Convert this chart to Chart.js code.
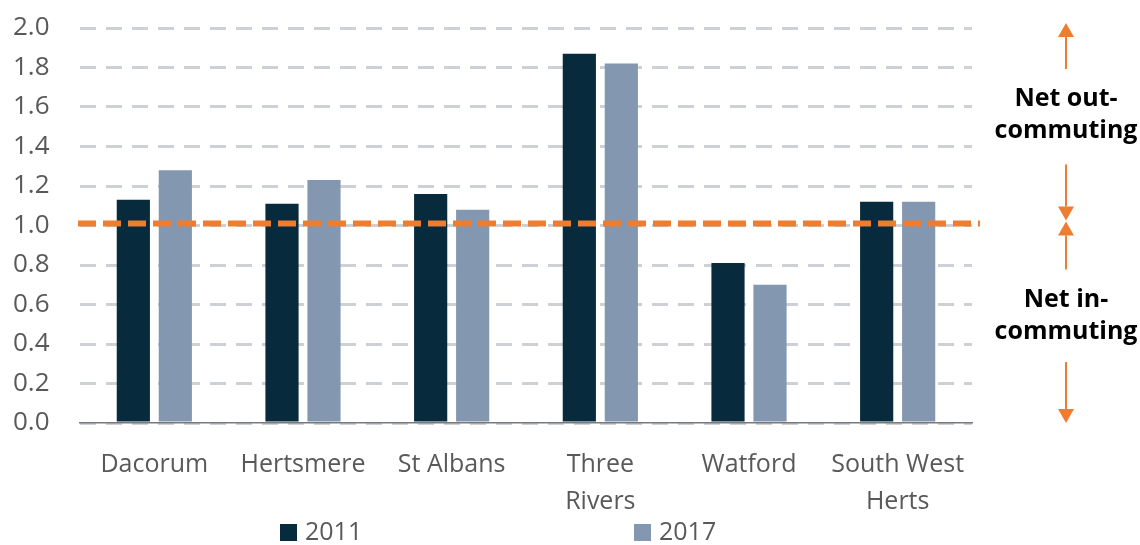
<!DOCTYPE html>
<html lang="en">
<head>
  <meta charset="UTF-8">
  <title>Commuting ratio</title>
  <script src="https://cdn.jsdelivr.net/npm/chart.js"></script>
  <style>
    html, body {
      margin: 0;
      padding: 0;
      background: #fff;
    }
    #wrap {
      width: 1140px;
      height: 545px;
      position: relative;
    }
  </style>
</head>
<body>
  <div id="wrap">
    <canvas id="ratioChart" width="1140" height="545"></canvas>
  </div>

  <script>
    const categories = ['Dacorum', 'Hertsmere', 'St Albans', ['Three', 'Rivers'], 'Watford', ['South West', 'Herts']];
    const values2011 = [1.13, 1.11, 1.16, 1.87, 0.81, 1.12];
    const values2017 = [1.28, 1.23, 1.08, 1.82, 0.70, 1.12];
    const seriesLabels = ['2011', '2017'];
    const yTicks = [0, 0.2, 0.4, 0.6, 0.8, 1.0, 1.2, 1.4, 1.6, 1.8, 2.0];
    const threshold = 1.01;
    const noteTop = ['Net out-', 'commuting'];
    const noteBottom = ['Net in-', 'commuting'];

    const ORANGE = '#ed7d31';
    const TEXT = '#595959';
    const FONT = '"Open Sans", sans-serif';

    // orange dashed 1.0 line
    const thresholdLine = {
      id: 'thresholdLine',
      afterDatasetsDraw(chart) {
        const { ctx, chartArea, scales } = chart;
        const y = scales.y.getPixelForValue(threshold);
        ctx.save();
        ctx.strokeStyle = ORANGE;
        ctx.lineWidth = 6;
        ctx.setLineDash([18, 7]);
        ctx.beginPath();
        ctx.moveTo(chartArea.left - 2, y);
        ctx.lineTo(chartArea.right + 8, y);
        ctx.stroke();
        ctx.restore();
      }
    };

    function arrow(ctx, x, y0, y1) {
      // line from y0 to the tip at y1
      const dir = y1 > y0 ? 1 : -1;
      const head = 14;
      ctx.beginPath();
      ctx.moveTo(x, y0);
      ctx.lineTo(x, y1 - dir * head);
      ctx.stroke();
      ctx.beginPath();
      ctx.moveTo(x, y1);
      ctx.lineTo(x - 8, y1 - dir * head);
      ctx.lineTo(x + 8, y1 - dir * head);
      ctx.closePath();
      ctx.fill();
    }

    // side notes with arrows + legend
    const sideNotes = {
      id: 'sideNotes',
      afterDraw(chart) {
        const { ctx, scales } = chart;
        const x = 1066;
        const yTop = scales.y.getPixelForValue(2.0) - 5;
        const yMid = scales.y.getPixelForValue(threshold);
        const yBot = scales.y.getPixelForValue(0);
        ctx.save();
        ctx.strokeStyle = ORANGE;
        ctx.fillStyle = ORANGE;
        ctx.lineWidth = 2;
        arrow(ctx, x, yTop + 46, yTop);
        arrow(ctx, x, yMid - 59, yMid - 3);
        arrow(ctx, x, yMid + 46, yMid - 2);
        arrow(ctx, x, yBot - 61, yBot);

        ctx.fillStyle = '#000';
        ctx.font = 'bold 25px ' + FONT;
        ctx.textAlign = 'center';
        ctx.textBaseline = 'alphabetic';
        ctx.fillText(noteTop[0], x, yTop + 83);
        ctx.fillText(noteTop[1], x, yTop + 115);
        ctx.fillText(noteBottom[0], x, yMid + 83);
        ctx.fillText(noteBottom[1], x, yMid + 115);

        // legend
        const legendX = [280, 634];
        const colors = chart.data.datasets.map(d => d.backgroundColor);
        ctx.font = '25px ' + FONT;
        ctx.textAlign = 'left';
        ctx.textBaseline = 'middle';
        seriesLabels.forEach((lab, i) => {
          ctx.fillStyle = colors[i];
          ctx.fillRect(legendX[i], 524, 17, 17);
          ctx.fillStyle = TEXT;
          ctx.fillText(lab, legendX[i] + 25, 533);
        });
        ctx.restore();
      }
    };

    new Chart(document.getElementById('ratioChart'), {
      type: 'bar',
      data: {
        labels: categories,
        datasets: [
          {
            label: seriesLabels[0],
            data: values2011,
            backgroundColor: '#072a3c',
            categoryPercentage: 0.565,
            barPercentage: 0.79
          },
          {
            label: seriesLabels[1],
            data: values2017,
            backgroundColor: '#8497b0',
            categoryPercentage: 0.565,
            barPercentage: 0.79
          }
        ]
      },
      options: {
        responsive: false,
        animation: false,
        layout: {
          padding: { left: 13, top: 28, right: 168, bottom: 0 }
        },
        plugins: {
          legend: { display: false },
          tooltip: { enabled: false }
        },
        scales: {
          x: {
            grid: { display: false },
            border: { display: true, color: '#767a7e', width: 1.5 },
            ticks: {
              color: TEXT,
              font: { family: FONT, size: 25, lineHeight: 1.45 },
              padding: 16,
              maxRotation: 0,
              autoSkip: false
            },
            afterFit(scale) { scale.height = 122; }
          },
          y: {
            min: 0,
            max: 2,
            afterBuildTicks(scale) {
              scale.ticks = yTicks.map(v => ({ value: v }));
            },
            grid: {
              color: '#cdd1d5',
              lineWidth: 3,
              drawTicks: false
            },
            border: { display: false, dash: [16, 10] },
            ticks: {
              color: TEXT,
              font: { family: FONT, size: 26 },
              padding: 0,
              crossAlign: 'far',
              callback: v => Number(v).toFixed(1)
            },
            afterFit(scale) { scale.width = 67; }
          }
        }
      },
      plugins: [thresholdLine, sideNotes]
    });
  </script>
</body>
</html>
